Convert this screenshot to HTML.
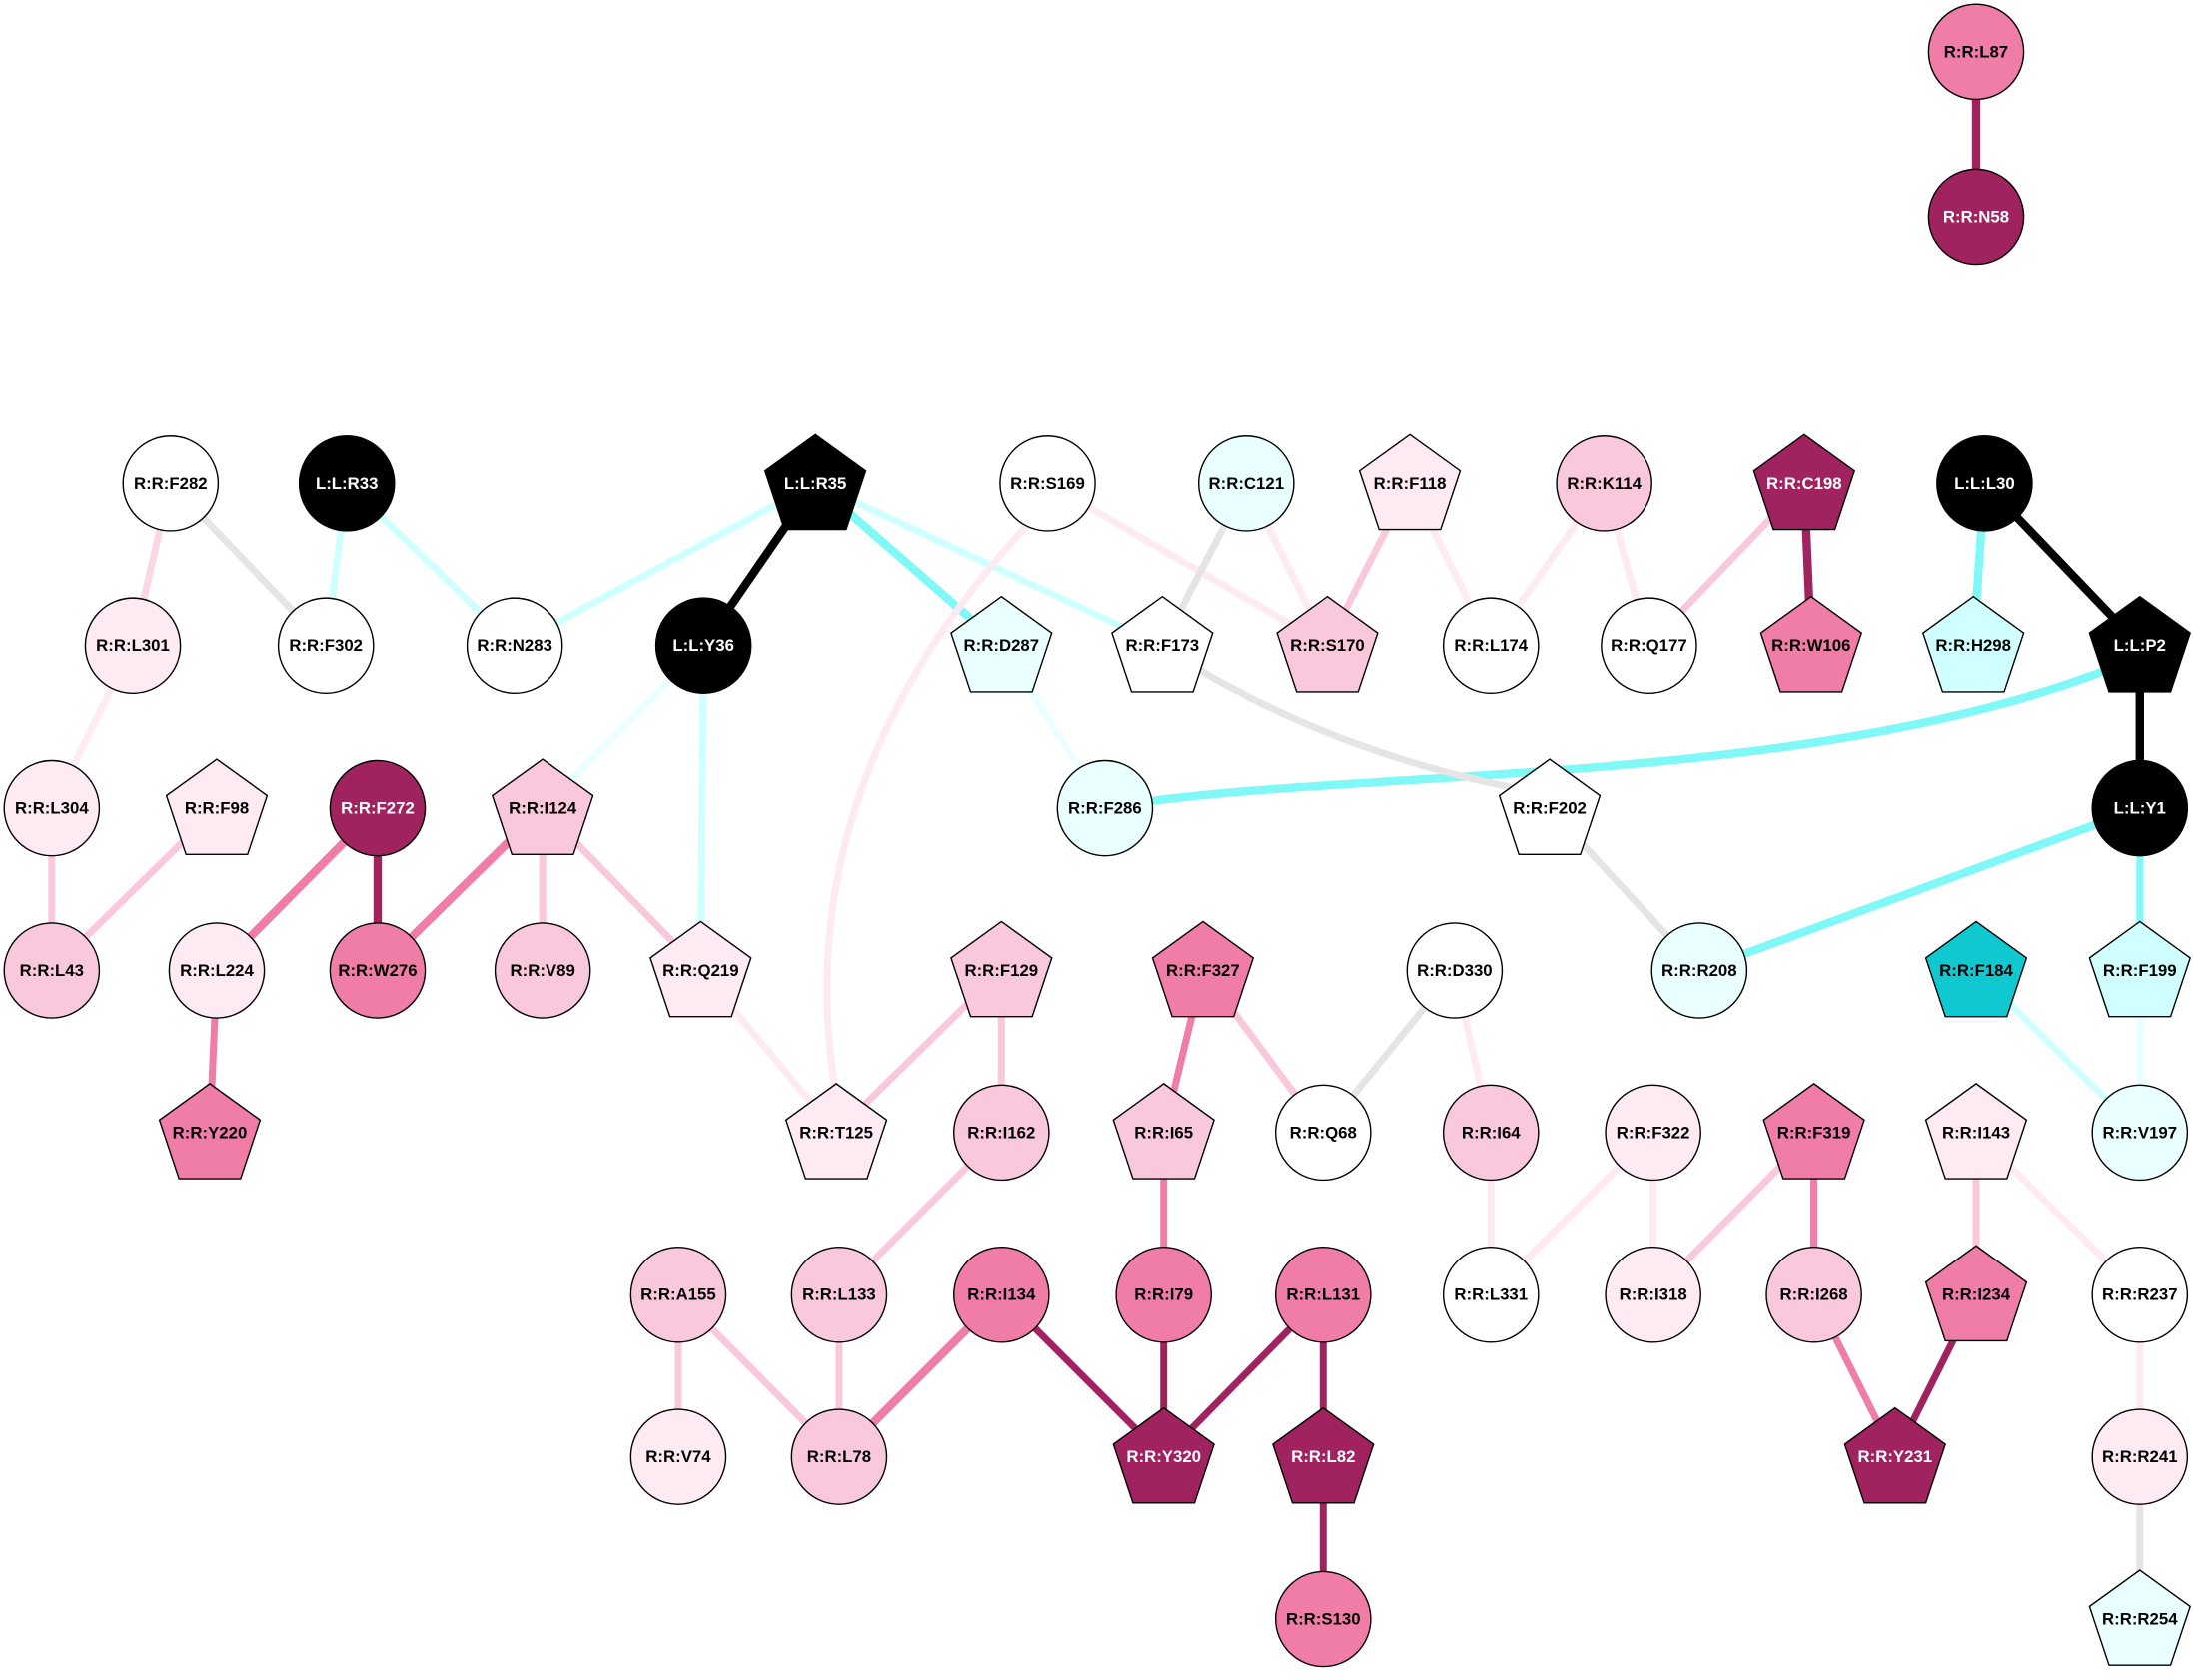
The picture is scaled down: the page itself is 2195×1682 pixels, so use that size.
<!DOCTYPE html>
<html><head><meta charset="utf-8"><style>
html,body{margin:0;padding:0;background:#fff}
svg text{font-family:"Liberation Sans",Arial,sans-serif;font-weight:bold;font-size:12px;text-anchor:middle;dominant-baseline:central}
</style></head><body>
<svg width="2195" height="1677" viewBox="0 0 1568 1198" xmlns="http://www.w3.org/2000/svg">
<g fill="none" stroke-linecap="butt">
<line x1="1413" y1="37" x2="1413" y2="155" stroke="#a0225e" stroke-width="6"/>
<line x1="122" y1="346" x2="95" y2="462" stroke="#fbd6e6" stroke-width="5"/>
<line x1="122" y1="346" x2="233" y2="462" stroke="#e5e5e5" stroke-width="5"/>
<line x1="248" y1="346" x2="233" y2="462" stroke="#d0ffff" stroke-width="5"/>
<line x1="248" y1="346" x2="368" y2="462" stroke="#d0ffff" stroke-width="5"/>
<line x1="583" y1="346" x2="368" y2="462" stroke="#d0ffff" stroke-width="5"/>
<line x1="583" y1="346" x2="503" y2="462" stroke="#000" stroke-width="6"/>
<line x1="583" y1="346" x2="716" y2="462" stroke="#80f8f8" stroke-width="6"/>
<line x1="583" y1="346" x2="831" y2="462" stroke="#d0ffff" stroke-width="5"/>
<path d="M740,370 Q560,560 598,785" stroke="#fdeaf2" stroke-width="5"/>
<line x1="749" y1="346" x2="949" y2="462" stroke="#fdeaf2" stroke-width="5"/>
<line x1="891" y1="346" x2="831" y2="462" stroke="#e5e5e5" stroke-width="5"/>
<line x1="891" y1="346" x2="949" y2="462" stroke="#fdeaf2" stroke-width="5"/>
<line x1="1008" y1="346" x2="949" y2="462" stroke="#f9c8dc" stroke-width="5"/>
<line x1="1008" y1="346" x2="1066" y2="462" stroke="#fdeaf2" stroke-width="5"/>
<line x1="1147" y1="346" x2="1066" y2="462" stroke="#fdeaf2" stroke-width="5"/>
<line x1="1147" y1="346" x2="1179" y2="462" stroke="#fdeaf2" stroke-width="5"/>
<line x1="1290" y1="346" x2="1179" y2="462" stroke="#f9c8dc" stroke-width="5"/>
<line x1="1290" y1="346" x2="1295" y2="462" stroke="#a0225e" stroke-width="6"/>
<line x1="1419" y1="346" x2="1411" y2="462" stroke="#80f8f8" stroke-width="6"/>
<line x1="1419" y1="346" x2="1530" y2="462" stroke="#000" stroke-width="6"/>
<line x1="1530" y1="462" x2="1530" y2="578" stroke="#000" stroke-width="6"/>
<path d="M1510,478 C1300,560 1000,550 822,573" stroke="#80f8f8" stroke-width="6"/>
<path d="M855,478 Q960,540 1090,565" stroke="#e5e5e5" stroke-width="5"/>
<line x1="95" y1="462" x2="37" y2="578" stroke="#fdeaf2" stroke-width="5"/>
<line x1="503" y1="462" x2="388" y2="578" stroke="#eaffff" stroke-width="5"/>
<line x1="503" y1="462" x2="501" y2="694" stroke="#d0ffff" stroke-width="5"/>
<line x1="716" y1="462" x2="790" y2="578" stroke="#eaffff" stroke-width="5"/>
<line x1="37" y1="578" x2="37" y2="694" stroke="#f9c8dc" stroke-width="5"/>
<line x1="155" y1="578" x2="37" y2="694" stroke="#f9c8dc" stroke-width="5"/>
<line x1="270" y1="578" x2="155" y2="694" stroke="#f07ca8" stroke-width="6"/>
<line x1="270" y1="578" x2="270" y2="694" stroke="#a0225e" stroke-width="6"/>
<line x1="388" y1="578" x2="270" y2="694" stroke="#f07ca8" stroke-width="6"/>
<line x1="388" y1="578" x2="388" y2="694" stroke="#f9c8dc" stroke-width="5"/>
<line x1="388" y1="578" x2="501" y2="694" stroke="#f9c8dc" stroke-width="5"/>
<line x1="1108" y1="578" x2="1215" y2="694" stroke="#e5e5e5" stroke-width="5"/>
<line x1="1530" y1="578" x2="1215" y2="694" stroke="#80f8f8" stroke-width="6"/>
<line x1="1530" y1="578" x2="1530" y2="694" stroke="#80f8f8" stroke-width="5"/>
<line x1="155" y1="694" x2="150" y2="810" stroke="#f07ca8" stroke-width="5"/>
<line x1="501" y1="694" x2="598" y2="810" stroke="#fdeaf2" stroke-width="5"/>
<line x1="716" y1="694" x2="598" y2="810" stroke="#f9c8dc" stroke-width="5"/>
<line x1="716" y1="694" x2="716" y2="810" stroke="#f9c8dc" stroke-width="5"/>
<line x1="860" y1="694" x2="832" y2="810" stroke="#f07ca8" stroke-width="5"/>
<line x1="860" y1="694" x2="946" y2="810" stroke="#f9c8dc" stroke-width="5"/>
<line x1="1040" y1="694" x2="946" y2="810" stroke="#e5e5e5" stroke-width="5"/>
<line x1="1040" y1="694" x2="1066" y2="810" stroke="#fdeaf2" stroke-width="5"/>
<line x1="1413" y1="694" x2="1530" y2="810" stroke="#d0ffff" stroke-width="5"/>
<line x1="1530" y1="694" x2="1530" y2="810" stroke="#eaffff" stroke-width="5"/>
<line x1="716" y1="810" x2="600" y2="926" stroke="#f9c8dc" stroke-width="5"/>
<line x1="832" y1="810" x2="832" y2="926" stroke="#f07ca8" stroke-width="5"/>
<line x1="1066" y1="810" x2="1066" y2="926" stroke="#fdeaf2" stroke-width="5"/>
<line x1="1182" y1="810" x2="1066" y2="926" stroke="#fdeaf2" stroke-width="5"/>
<line x1="1182" y1="810" x2="1182" y2="926" stroke="#fdeaf2" stroke-width="5"/>
<line x1="1297" y1="810" x2="1182" y2="926" stroke="#f9c8dc" stroke-width="5"/>
<line x1="1297" y1="810" x2="1297" y2="926" stroke="#f07ca8" stroke-width="5"/>
<line x1="1413" y1="810" x2="1413" y2="926" stroke="#f9c8dc" stroke-width="5"/>
<line x1="1413" y1="810" x2="1530" y2="926" stroke="#fdeaf2" stroke-width="5"/>
<line x1="485" y1="926" x2="485" y2="1042" stroke="#f9c8dc" stroke-width="5"/>
<line x1="485" y1="926" x2="600" y2="1042" stroke="#f9c8dc" stroke-width="5"/>
<line x1="600" y1="926" x2="600" y2="1042" stroke="#f9c8dc" stroke-width="5"/>
<line x1="716" y1="926" x2="600" y2="1042" stroke="#f07ca8" stroke-width="6"/>
<line x1="716" y1="926" x2="832" y2="1042" stroke="#a0225e" stroke-width="5"/>
<line x1="832" y1="926" x2="832" y2="1042" stroke="#a0225e" stroke-width="5"/>
<line x1="946" y1="926" x2="832" y2="1042" stroke="#a0225e" stroke-width="5"/>
<line x1="946" y1="926" x2="946" y2="1042" stroke="#a0225e" stroke-width="5"/>
<line x1="946" y1="1042" x2="946" y2="1158" stroke="#a0225e" stroke-width="5"/>
<line x1="1297" y1="926" x2="1355" y2="1042" stroke="#f07ca8" stroke-width="5"/>
<line x1="1413" y1="926" x2="1355" y2="1042" stroke="#a0225e" stroke-width="5"/>
<line x1="1530" y1="926" x2="1530" y2="1042" stroke="#fdeaf2" stroke-width="5"/>
<line x1="1530" y1="1042" x2="1530" y2="1158" stroke="#e5e5e5" stroke-width="5"/>
</g>
<g stroke="#000" stroke-width="1">
<circle cx="1413" cy="37" r="34" fill="#f07ca8"/>
<circle cx="1413" cy="155" r="34" fill="#a0225e"/>
<circle cx="122" cy="346" r="34" fill="#fff"/>
<circle cx="248" cy="346" r="34" fill="#000"/>
<polygon transform="translate(583,346)" points="0,-35 36,-9 22,33 -22,33 -36,-9" fill="#000"/>
<circle cx="749" cy="346" r="34" fill="#fff"/>
<circle cx="891" cy="346" r="34" fill="#eaffff"/>
<polygon transform="translate(1008,346)" points="0,-35 36,-9 22,33 -22,33 -36,-9" fill="#fdeaf2"/>
<circle cx="1147" cy="346" r="34" fill="#f9c8dc"/>
<polygon transform="translate(1290,346)" points="0,-35 36,-9 22,33 -22,33 -36,-9" fill="#a0225e"/>
<circle cx="1419" cy="346" r="34" fill="#000"/>
<circle cx="95" cy="462" r="34" fill="#fdeaf2"/>
<circle cx="233" cy="462" r="34" fill="#fff"/>
<circle cx="368" cy="462" r="34" fill="#fff"/>
<circle cx="503" cy="462" r="34" fill="#000"/>
<polygon transform="translate(716,462)" points="0,-35 36,-9 22,33 -22,33 -36,-9" fill="#eaffff"/>
<polygon transform="translate(831,462)" points="0,-35 36,-9 22,33 -22,33 -36,-9" fill="#fff"/>
<polygon transform="translate(949,462)" points="0,-35 36,-9 22,33 -22,33 -36,-9" fill="#f9c8dc"/>
<circle cx="1066" cy="462" r="34" fill="#fff"/>
<circle cx="1179" cy="462" r="34" fill="#fff"/>
<polygon transform="translate(1295,462)" points="0,-35 36,-9 22,33 -22,33 -36,-9" fill="#f07ca8"/>
<polygon transform="translate(1411,462)" points="0,-35 36,-9 22,33 -22,33 -36,-9" fill="#d0ffff"/>
<polygon transform="translate(1530,462)" points="0,-35 36,-9 22,33 -22,33 -36,-9" fill="#000"/>
<circle cx="37" cy="578" r="34" fill="#fdeaf2"/>
<polygon transform="translate(155,578)" points="0,-35 36,-9 22,33 -22,33 -36,-9" fill="#fdeaf2"/>
<circle cx="270" cy="578" r="34" fill="#a0225e"/>
<polygon transform="translate(388,578)" points="0,-35 36,-9 22,33 -22,33 -36,-9" fill="#f9c8dc"/>
<circle cx="790" cy="578" r="34" fill="#eaffff"/>
<polygon transform="translate(1108,578)" points="0,-35 36,-9 22,33 -22,33 -36,-9" fill="#fff"/>
<circle cx="1530" cy="578" r="34" fill="#000"/>
<circle cx="37" cy="694" r="34" fill="#f9c8dc"/>
<circle cx="155" cy="694" r="34" fill="#fdeaf2"/>
<circle cx="270" cy="694" r="34" fill="#f07ca8"/>
<circle cx="388" cy="694" r="34" fill="#f9c8dc"/>
<polygon transform="translate(501,694)" points="0,-35 36,-9 22,33 -22,33 -36,-9" fill="#fdeaf2"/>
<polygon transform="translate(716,694)" points="0,-35 36,-9 22,33 -22,33 -36,-9" fill="#f9c8dc"/>
<polygon transform="translate(860,694)" points="0,-35 36,-9 22,33 -22,33 -36,-9" fill="#f07ca8"/>
<circle cx="1040" cy="694" r="34" fill="#fff"/>
<circle cx="1215" cy="694" r="34" fill="#eaffff"/>
<polygon transform="translate(1413,694)" points="0,-35 36,-9 22,33 -22,33 -36,-9" fill="#10c8d0"/>
<polygon transform="translate(1530,694)" points="0,-35 36,-9 22,33 -22,33 -36,-9" fill="#d0ffff"/>
<polygon transform="translate(150,810)" points="0,-35 36,-9 22,33 -22,33 -36,-9" fill="#f07ca8"/>
<polygon transform="translate(598,810)" points="0,-35 36,-9 22,33 -22,33 -36,-9" fill="#fdeaf2"/>
<circle cx="716" cy="810" r="34" fill="#f9c8dc"/>
<polygon transform="translate(832,810)" points="0,-35 36,-9 22,33 -22,33 -36,-9" fill="#f9c8dc"/>
<circle cx="946" cy="810" r="34" fill="#fff"/>
<circle cx="1066" cy="810" r="34" fill="#f9c8dc"/>
<circle cx="1182" cy="810" r="34" fill="#fdeaf2"/>
<polygon transform="translate(1297,810)" points="0,-35 36,-9 22,33 -22,33 -36,-9" fill="#f07ca8"/>
<polygon transform="translate(1413,810)" points="0,-35 36,-9 22,33 -22,33 -36,-9" fill="#fdeaf2"/>
<circle cx="1530" cy="810" r="34" fill="#eaffff"/>
<circle cx="485" cy="926" r="34" fill="#f9c8dc"/>
<circle cx="600" cy="926" r="34" fill="#f9c8dc"/>
<circle cx="716" cy="926" r="34" fill="#f07ca8"/>
<circle cx="832" cy="926" r="34" fill="#f07ca8"/>
<circle cx="946" cy="926" r="34" fill="#f07ca8"/>
<circle cx="1066" cy="926" r="34" fill="#fff"/>
<circle cx="1182" cy="926" r="34" fill="#fdeaf2"/>
<circle cx="1297" cy="926" r="34" fill="#f9c8dc"/>
<polygon transform="translate(1413,926)" points="0,-35 36,-9 22,33 -22,33 -36,-9" fill="#f07ca8"/>
<circle cx="1530" cy="926" r="34" fill="#fff"/>
<circle cx="485" cy="1042" r="34" fill="#fdeaf2"/>
<circle cx="600" cy="1042" r="34" fill="#f9c8dc"/>
<polygon transform="translate(832,1042)" points="0,-35 36,-9 22,33 -22,33 -36,-9" fill="#a0225e"/>
<polygon transform="translate(946,1042)" points="0,-35 36,-9 22,33 -22,33 -36,-9" fill="#a0225e"/>
<polygon transform="translate(1355,1042)" points="0,-35 36,-9 22,33 -22,33 -36,-9" fill="#a0225e"/>
<circle cx="1530" cy="1042" r="34" fill="#fdeaf2"/>
<circle cx="946" cy="1158" r="34" fill="#f07ca8"/>
<polygon transform="translate(1530,1158)" points="0,-35 36,-9 22,33 -22,33 -36,-9" fill="#eaffff"/>
</g>
<g fill="#000">
<text x="1413" y="37">R:R:L87</text>
<text x="1413" y="155" fill="#fff">R:R:N58</text>
<text x="122" y="346">R:R:F282</text>
<text x="248" y="346" fill="#fff">L:L:R33</text>
<text x="583" y="346" fill="#fff">L:L:R35</text>
<text x="749" y="346">R:R:S169</text>
<text x="891" y="346">R:R:C121</text>
<text x="1008" y="346">R:R:F118</text>
<text x="1147" y="346">R:R:K114</text>
<text x="1290" y="346" fill="#fff">R:R:C198</text>
<text x="1419" y="346" fill="#fff">L:L:L30</text>
<text x="95" y="462">R:R:L301</text>
<text x="233" y="462">R:R:F302</text>
<text x="368" y="462">R:R:N283</text>
<text x="503" y="462" fill="#fff">L:L:Y36</text>
<text x="716" y="462">R:R:D287</text>
<text x="831" y="462">R:R:F173</text>
<text x="949" y="462">R:R:S170</text>
<text x="1066" y="462">R:R:L174</text>
<text x="1179" y="462">R:R:Q177</text>
<text x="1295" y="462">R:R:W106</text>
<text x="1411" y="462">R:R:H298</text>
<text x="1530" y="462" fill="#fff">L:L:P2</text>
<text x="37" y="578">R:R:L304</text>
<text x="155" y="578">R:R:F98</text>
<text x="270" y="578" fill="#fff">R:R:F272</text>
<text x="388" y="578">R:R:I124</text>
<text x="790" y="578">R:R:F286</text>
<text x="1108" y="578">R:R:F202</text>
<text x="1530" y="578" fill="#fff">L:L:Y1</text>
<text x="37" y="694">R:R:L43</text>
<text x="155" y="694">R:R:L224</text>
<text x="270" y="694">R:R:W276</text>
<text x="388" y="694">R:R:V89</text>
<text x="501" y="694">R:R:Q219</text>
<text x="716" y="694">R:R:F129</text>
<text x="860" y="694">R:R:F327</text>
<text x="1040" y="694">R:R:D330</text>
<text x="1215" y="694">R:R:R208</text>
<text x="1413" y="694">R:R:F184</text>
<text x="1530" y="694">R:R:F199</text>
<text x="150" y="810">R:R:Y220</text>
<text x="598" y="810">R:R:T125</text>
<text x="716" y="810">R:R:I162</text>
<text x="832" y="810">R:R:I65</text>
<text x="946" y="810">R:R:Q68</text>
<text x="1066" y="810">R:R:I64</text>
<text x="1182" y="810">R:R:F322</text>
<text x="1297" y="810">R:R:F319</text>
<text x="1413" y="810">R:R:I143</text>
<text x="1530" y="810">R:R:V197</text>
<text x="485" y="926">R:R:A155</text>
<text x="600" y="926">R:R:L133</text>
<text x="716" y="926">R:R:I134</text>
<text x="832" y="926">R:R:I79</text>
<text x="946" y="926">R:R:L131</text>
<text x="1066" y="926">R:R:L331</text>
<text x="1182" y="926">R:R:I318</text>
<text x="1297" y="926">R:R:I268</text>
<text x="1413" y="926">R:R:I234</text>
<text x="1530" y="926">R:R:R237</text>
<text x="485" y="1042">R:R:V74</text>
<text x="600" y="1042">R:R:L78</text>
<text x="832" y="1042" fill="#fff">R:R:Y320</text>
<text x="946" y="1042" fill="#fff">R:R:L82</text>
<text x="1355" y="1042" fill="#fff">R:R:Y231</text>
<text x="1530" y="1042">R:R:R241</text>
<text x="946" y="1158">R:R:S130</text>
<text x="1530" y="1158">R:R:R254</text>
</g>
</svg>
</body></html>
